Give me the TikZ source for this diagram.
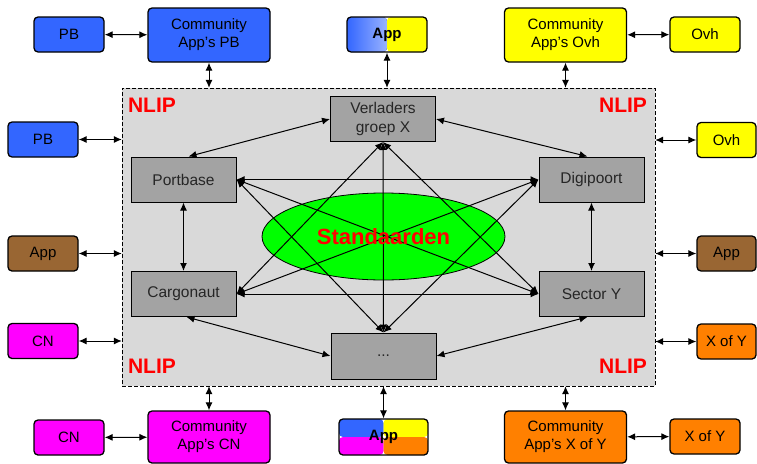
\documentclass[tikz,border=0pt]{standalone}
\usepackage{fontspec}
\setmainfont{Liberation Sans}
\usetikzlibrary{arrows.meta,shapes.geometric}

\definecolor{appblue}{rgb}{0.2,0.4,1}
\definecolor{appyellow}{rgb}{1,1,0}
\definecolor{appbrown}{rgb}{0.6,0.4,0.2}
\definecolor{appmagenta}{rgb}{1,0,1}
\definecolor{apporange}{rgb}{1,0.5,0}
\definecolor{nlipgray}{rgb}{0.85,0.85,0.85}
\definecolor{boxgray}{rgb}{0.64,0.64,0.64}
\definecolor{stdgreen}{rgb}{0,1,0}

\begin{document}
\begin{tikzpicture}[x=1pt,y=-1pt,>={Latex[length=8pt,width=7pt]},
	app/.style={draw,line width=1.3,rounded corners=4,align=center,inner sep=0,font=\fontsize{15}{18}\selectfont},
	small/.style={app,minimum width=70,minimum height=35},
	comm/.style={app,minimum width=122,minimum height=54},
	sys/.style={draw,fill=boxgray,line width=1,minimum width=105,minimum height=45,align=center,inner sep=0,text=black!85,font=\fontsize{15.5}{19}\selectfont},
	link/.style={<->,line width=1},
	nliptext/.style={text=red,font=\bfseries\fontsize{21}{21}\selectfont}]
	\useasboundingbox (0,0) rectangle (757,463);

	\node[draw,dash pattern=on 4pt off 2pt,fill=nlipgray,minimum width=533,minimum height=298,inner sep=0] (nlip) at (388.5,237) {};
	\node[ellipse,draw,fill=stdgreen,line width=0.8,minimum width=243,minimum height=87,inner sep=0] (std) at (383.5,236.5) {};

	\node[sys] (verl) at (383,119) {Verladers\\groep X};
	\node[sys] (port) at (183.5,179.5) {Portbase};
	\node[sys] (carg) at (183.5,294) {Cargonaut};
	\node[sys] (digi) at (591.5,179.5) {Digipoort};
	\node[sys] (sect) at (591.5,294) {Sector Y};
	\node[sys,minimum height=46] (etc) at (383.5,356) {...};

	\draw[link] (verl.west) -- ([xshift=5]port.north);
	\draw[link] (verl.east) -- ([xshift=-4]digi.north);
	\draw[link] (port) -- (carg);
	\draw[link] (digi) -- (sect);
	\draw[link] ([xshift=3]carg.south) -- (etc.west);
	\draw[link] (etc.east) -- ([xshift=-4]sect.south);
	\foreach \a/\b in {port.east/digi.west,carg.east/sect.west,verl.south/etc.north,
		port.east/sect.west,port.east/etc.north,carg.east/verl.south,
		carg.east/digi.west,digi.west/etc.north,verl.south/sect.west}
		\draw[link] (\a) -- (\b);

	\node[text=red,font=\bfseries\fontsize{22}{22}\selectfont] at (std) {Standaarden};
	\node[nliptext] at (152,105) {NLIP};
	\node[nliptext] at (623,105) {NLIP};
	\node[nliptext] at (152,366) {NLIP};
	\node[nliptext] at (623,366) {NLIP};

	\node[small,fill=appblue] (pbtop) at (69,34.5) {PB};
	\node[comm,fill=appblue] (commpb) at (209,35) {Community\\App’s PB};
	\node[small,minimum width=80,path picture={
		\fill[left color=appblue,right color=white] (path picture bounding box.south west) rectangle (path picture bounding box.north);
		\fill[appyellow] (path picture bounding box.north) rectangle (path picture bounding box.south east);}] (apptop) at (387,34.5) {\textbf{App}};
	\node[comm,fill=appyellow] (commovh) at (565.5,35) {Community\\App’s Ovh};
	\node[small,fill=appyellow] (ovhtop) at (705,34.5) {Ovh};

	\node[small,fill=appblue] (pbleft) at (43,139.5) {PB};
	\node[small,fill=appbrown] (appleft) at (43,253.5) {App};
	\node[small,fill=appmagenta] (cnleft) at (43,341) {CN};
	\node[small,minimum width=59,fill=appyellow] (ovhright) at (726.5,140) {Ovh};
	\node[small,minimum width=59,fill=appbrown] (appright) at (726.5,253.5) {App};
	\node[small,minimum width=59,fill=apporange] (xyright) at (726.5,341.5) {X of Y};

	\node[small,fill=appmagenta] (cnbot) at (69,437.5) {CN};
	\node[comm,minimum height=52,fill=appmagenta] (commcn) at (209,437) {Community\\App’s CN};
	\node[small,minimum width=89,minimum height=36,path picture={
		\fill[appblue] (path picture bounding box.north west) rectangle (path picture bounding box.center);
		\fill[appyellow] (path picture bounding box.north) rectangle (path picture bounding box.east);
		\fill[appmagenta] (path picture bounding box.west) rectangle (path picture bounding box.south);
		\fill[apporange] (path picture bounding box.center) rectangle (path picture bounding box.south east);}] (appbot) at (383.5,437) {\textbf{App}};
	\node[comm,minimum height=52,fill=apporange] (commxy) at (565.5,437) {Community\\App’s X of Y};
	\node[small,fill=apporange] (xybot) at (705,436.5) {X of Y};

	\draw[link] (pbtop) -- (commpb);
	\draw[link] (commovh) -- (ovhtop);
	\draw[link] (cnbot) -- (commcn);
	\draw[link] (commxy) -- (xybot);
	\foreach \n in {commpb,apptop,commovh}
		\draw[link] (\n) -- (\n |- nlip.north);
	\foreach \n in {commcn,appbot,commxy}
		\draw[link] (\n) -- (\n |- nlip.south);
	\foreach \n in {pbleft,appleft,cnleft}
		\draw[link] (\n) -- (\n -| nlip.west);
	\foreach \n in {ovhright,appright,xyright}
		\draw[link] (\n) -- (\n -| nlip.east);
\end{tikzpicture}
\end{document}
